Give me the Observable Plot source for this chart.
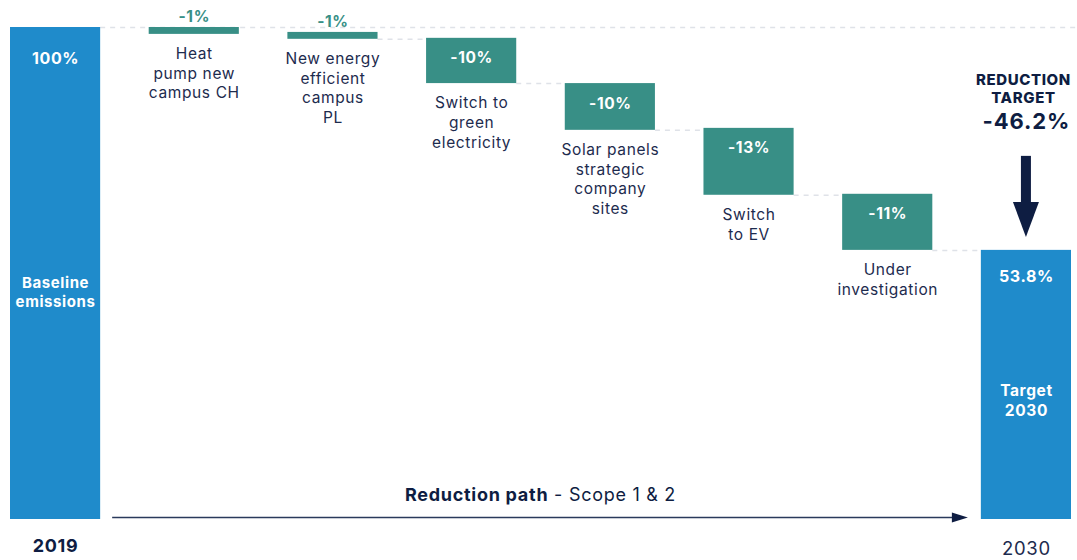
<!DOCTYPE html>
<html><head><meta charset="utf-8">
<script src="https://cdn.jsdelivr.net/npm/d3@7"></script>
<script src="https://cdn.jsdelivr.net/npm/@observablehq/plot@0.6"></script>
<style>body{margin:0;background:#fff}#chart svg{display:block}#chart svg text{letter-spacing:0.04em}</style>
</head><body><div id="chart"></div>
<script>
// ---- data ----
const stepNames = ["Heat\npump new\ncampus CH", "New energy\nefficient\ncampus\nPL", "Switch to\ngreen\nelectricity", "Solar panels\nstrategic\ncompany\nsites", "Switch\nto EV", "Under\ninvestigation"];
const stepLabels = ["-1%", "-1%", "-10%", "-10%", "-13%", "-11%"];
const stepFrom = [100, 99.0, 97.8, 88.6, 79.5, 66.1];
const stepTo = [98.6, 97.6, 88.6, 79.1, 65.9, 54.7];
const baselineYear = "2019", baselineValue = 100, baselineLabel = "100%", baselineName = "Baseline\nemissions";
const targetYear = "2030", targetValue = 54.7, targetLabel = "53.8%", targetName = "Target\n2030";
const reductionTitle = "REDUCTION\nTARGET", reductionLabel = "-46.2%";
const pathBold = "Reduction path", pathRest = " - Scope 1 & 2";

// ---- build ----
const W = 1077, H = 560, ML = 10, MR = 6, MT = 27, MB = 41, PAD = 0.35;
const steps = stepNames.map((name, i) => ({key: "s" + i, name, label: stepLabels[i], from: stepFrom[i], to: stepTo[i]}));
const domain = [baselineYear, ...steps.map(d => d.key), targetYear];
const bw = (W - ML - MR) / (domain.length - PAD) * (1 - PAD);
const base = [{key: baselineYear, value: baselineValue, top: baselineLabel, mid: baselineName}];
const target = [{key: targetYear, value: targetValue, top: targetLabel, mid: targetName}];
const ends = [...base, ...target];
const topLine = [{x1: baselineYear, x2: targetYear, y: baselineValue}];
const connectors = steps.slice(1).map((d, i) => ({x1: d.key, x2: domain[i + 3], y: d.to}));

const BLUE = "#1f8bcb", TEAL = "#388f86", NAVY = "#1d2b4e", DARK = "#0e1d42", DASH = "#dfe2e8";
const FONT = "Inter, 'Noto Sans', sans-serif";

const chart = Plot.plot({
  width: W, height: H,
  marginLeft: ML, marginRight: MR, marginTop: MT, marginBottom: MB,
  style: {fontFamily: FONT, background: "white"},
  x: {type: "band", domain, paddingInner: PAD, paddingOuter: 0, round: false, axis: null},
  y: {domain: [0, 100], axis: null},
  marks: [
    Plot.ruleY(topLine, {x1: "x1", x2: "x2", y: "y", insetLeft: bw, insetRight: -MR, stroke: DASH, strokeWidth: 1.5, strokeDasharray: "5,5"}),
    Plot.ruleY(connectors, {x1: "x1", x2: "x2", y: "y", insetLeft: bw, insetRight: bw, stroke: DASH, strokeWidth: 1.5, strokeDasharray: "5,5"}),
    Plot.barY(ends, {x: "key", y1: 0, y2: "value", fill: BLUE}),
    Plot.barY(steps, {x: "key", y1: "to", y2: "from", fill: TEAL}),
    // end bar labels
    Plot.text(base, {x: "key", y: "value", text: "top", dy: 31, fill: "white", fontWeight: 700, fontSize: 16}),
    Plot.text(target, {x: "key", y: "value", text: "top", dy: 26, fill: "white", fontWeight: 700, fontSize: 16}),
    Plot.text(base, {x: "key", y: d => d.value / 2, text: "mid", dy: 18, fill: "white", fontWeight: 700, fontSize: 15, lineHeight: 1.3}),
    Plot.text(target, {x: "key", y: d => d.value / 2, text: "mid", dy: 15, fill: "white", fontWeight: 700, fontSize: 15.5, lineHeight: 1.27}),
    Plot.text(base, {x: "key", y: 0, text: "key", dy: 27, fill: DARK, fontWeight: 700, fontSize: 18}),
    Plot.text(target, {x: "key", y: 0, text: "key", dy: 30, fill: NAVY, fontWeight: 400, fontSize: 18.5}),
    // step value labels
    Plot.text(steps.filter(d => d.from - d.to < 5), {x: "key", y: "from", text: "label", dy: -10, fill: TEAL, fontWeight: 700, fontSize: 15.5}),
    Plot.text(steps.filter(d => d.from - d.to >= 5), {x: "key", y: "from", text: "label", dy: 20, fill: "white", fontWeight: 700, fontSize: 15.5}),
    // step names
    Plot.text(steps, {x: "key", y: "to", text: "name", lineAnchor: "top", dy: 11, fill: NAVY, fontSize: 15.5, lineHeight: 1.26}),
    // reduction target heading
    Plot.text(target, {x: "key", y: "value", text: () => reductionTitle, lineAnchor: "top", dy: -178, dx: -3, fill: DARK, fontWeight: 800, fontSize: 15, lineHeight: 1.2}),
    Plot.text(target, {x: "key", y: "value", text: () => reductionLabel, dy: -128, fill: DARK, fontWeight: 700, fontSize: 22})
  ]
});

const svg = d3.select(chart);
const xs = chart.scale("x"), ys = chart.scale("y");
const bwid = xs.bandwidth;
const cx = xs.apply(targetYear) + bwid / 2, yT = ys.apply(targetValue), y0 = ys.apply(0);
// down arrow
svg.append("rect").attr("x", cx - 5).attr("y", yT - 94).attr("width", 10).attr("height", 48).attr("fill", DARK);
svg.append("path").attr("d", `M${cx - 13},${yT - 48}L${cx + 13},${yT - 48}L${cx},${yT - 13}Z`).attr("fill", DARK);
// bottom path arrow
const xa = xs.apply(baselineYear) + bwid + 12, xb = xs.apply(targetYear) - 13;
svg.append("line").attr("x1", xa).attr("x2", xb - 14).attr("y1", y0 - 1.5).attr("y2", y0 - 1.5).attr("stroke", "#2a3a5c").attr("stroke-width", 1.6);
svg.append("path").attr("d", `M${xb - 16},${y0 - 6.5}L${xb},${y0 - 1.5}L${xb - 16},${y0 + 3.5}Z`).attr("fill", DARK);
const t = svg.append("text").attr("x", (ML + W - MR) / 2).attr("y", y0 - 24).attr("text-anchor", "middle")
  .attr("dy", "0.35em").attr("font-family", FONT).attr("font-size", 18).attr("fill", DARK);
t.append("tspan").attr("font-weight", 700).text(pathBold);
t.append("tspan").attr("font-weight", 400).text(pathRest);

document.getElementById("chart").append(chart);
</script>
</body></html>
